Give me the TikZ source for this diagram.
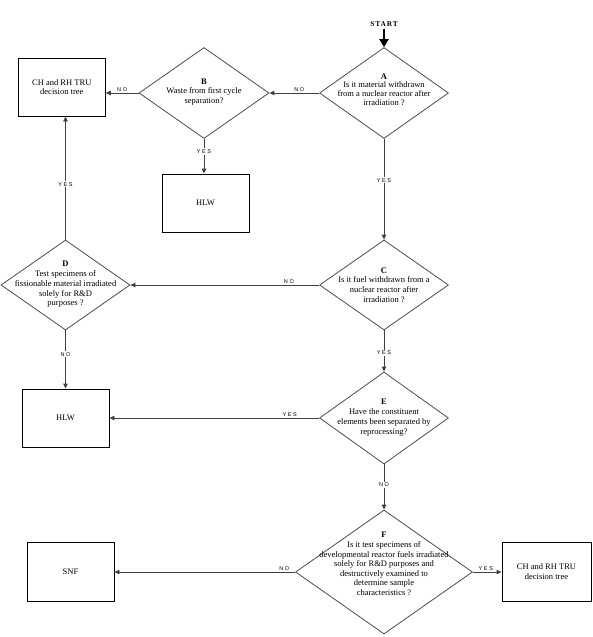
\documentclass[tikz,border=0pt]{standalone}
\usepackage{fontspec}
\setmainfont{Liberation Serif}
\newfontfamily\lblfont[LetterSpace=30]{Liberation Sans}
\newfontfamily\startfont[LetterSpace=12]{Liberation Serif}
\usetikzlibrary{shapes.geometric,arrows.meta}
\begin{document}
\begin{tikzpicture}[x=1pt,y=-1pt,
  dia/.style={diamond,draw=black!70,line width=0.8pt,inner sep=0pt},
  dtext/.style={align=center,inner sep=0pt,font=\fontsize{8.5}{9.8}\selectfont},
  box/.style={draw=black,line width=0.9pt,inner sep=0pt,font=\fontsize{8.5}{9.8}\selectfont,align=center},
  conn/.style={draw=black!75,line width=0.9pt,-{Triangle[length=5pt,width=4.5pt]}},
  lbl/.style={font=\lblfont\fontsize{5.5}{6}\selectfont,inner sep=1.2pt},
  vlbl/.style={lbl,fill=white,inner sep=1.2pt}]
\useasboundingbox (0,0) rectangle (592,637);
% START
\node[font=\startfont\bfseries\fontsize{7.4}{8}\selectfont,inner sep=0pt] (start) at (384,24) {START};
% diamonds
\node[dia,minimum width=129pt,minimum height=91pt] (A) at (384,93) {};
\node[dia,minimum width=130pt,minimum height=91pt] (B) at (204,93) {};
\node[dia,minimum width=129pt,minimum height=90pt] (C) at (384,285) {};
\node[dia,minimum width=129pt,minimum height=90pt] (D) at (65.5,285) {};
\node[dia,minimum width=129pt,minimum height=92pt] (E) at (384,418) {};
\node[dia,minimum width=177pt,minimum height=124pt] (F) at (384,572) {};
% diamond texts
\node[dtext,font=\fontsize{8.5}{8.6}\selectfont] (At) at (384,89.5) {\textbf{A}\\Is it material withdrawn\\from a nuclear reactor after\\irradiation ?};
\node[dtext] (Bt) at (204,92) {\textbf{B}\\Waste from first cycle\\separation?};
\node[dtext] (Ct) at (384,285) {\textbf{C}\\Is it fuel withdrawn from a\\nuclear reactor after\\irradiation ?};
\node[dtext] (Dt) at (65.5,284.5) {\textbf{D}\\Test specimens of\\fissionable material irradiated\\solely for R\&D\\purposes ?};
\node[dtext] (Et) at (384,417.5) {\textbf{E}\\Have the constituent\\elements been separated by\\reprocessing?};
\node[dtext,font=\fontsize{8.5}{9.6}\selectfont] (Ft) at (384,564) {\textbf{F}\\Is it test specimens of\\developmental reactor fuels irradiated\\solely for R\&D purposes and\\destructively examined to\\determine sample\\characteristics ?};
% boxes
\node[box,minimum width=87pt,minimum height=58pt] (ch1) at (61.8,87) {CH and RH TRU\\decision tree};
\node[box,minimum width=87pt,minimum height=58pt] (hlw1) at (205.5,203) {HLW};
\node[box,minimum width=87pt,minimum height=58pt] (hlw2) at (65.5,418) {HLW};
\node[box,minimum width=87pt,minimum height=59pt] (snf) at (70.5,571.5) {SNF};
\node[box,minimum width=89pt,minimum height=59pt] (ch2) at (546.5,571.5) {CH and RH TRU\\decision tree};
% START arrow
\draw[black,line width=2.4pt,-{Triangle[length=8pt,width=9pt]}] (start.south) ++(0,2) coordinate (s0) -- (A.north);
% connectors
\draw[conn] (A.west) -- node[lbl,above,pos=0.4] {NO} (B.east);
\draw[conn] (B.west) -- node[lbl,above,pos=0.5] {NO} (B.west -| ch1.east);
\draw[conn] (B.south) -- node[vlbl,pos=0.36] {YES} (B.south |- hlw1.north);
\draw[conn] (A.south) -- node[vlbl,pos=0.41] {YES} (C.north);
\draw[conn] (C.west) -- node[lbl,above,pos=0.16] {NO} (D.east);
\draw[conn] (D.north) -- node[vlbl,pos=0.45] {YES} (D.north |- ch1.south);
\draw[conn] (D.south) -- node[vlbl,pos=0.41] {NO} (hlw2.north);
\draw[conn] (C.south) -- node[vlbl,pos=0.55] {YES} (E.north);
\draw[conn] (E.west) -- node[lbl,above,pos=0.14] {YES} (E.west -| hlw2.east);
\draw[conn] (E.south) -- node[vlbl,pos=0.45] {NO} (F.north);
\draw[conn] (F.west) -- node[lbl,above,pos=0.06] {NO} (F.west -| snf.east);
\draw[conn] (F.east) -- node[lbl,above,pos=0.45] {YES} (F.east -| ch2.west);
\end{tikzpicture}
\end{document}
